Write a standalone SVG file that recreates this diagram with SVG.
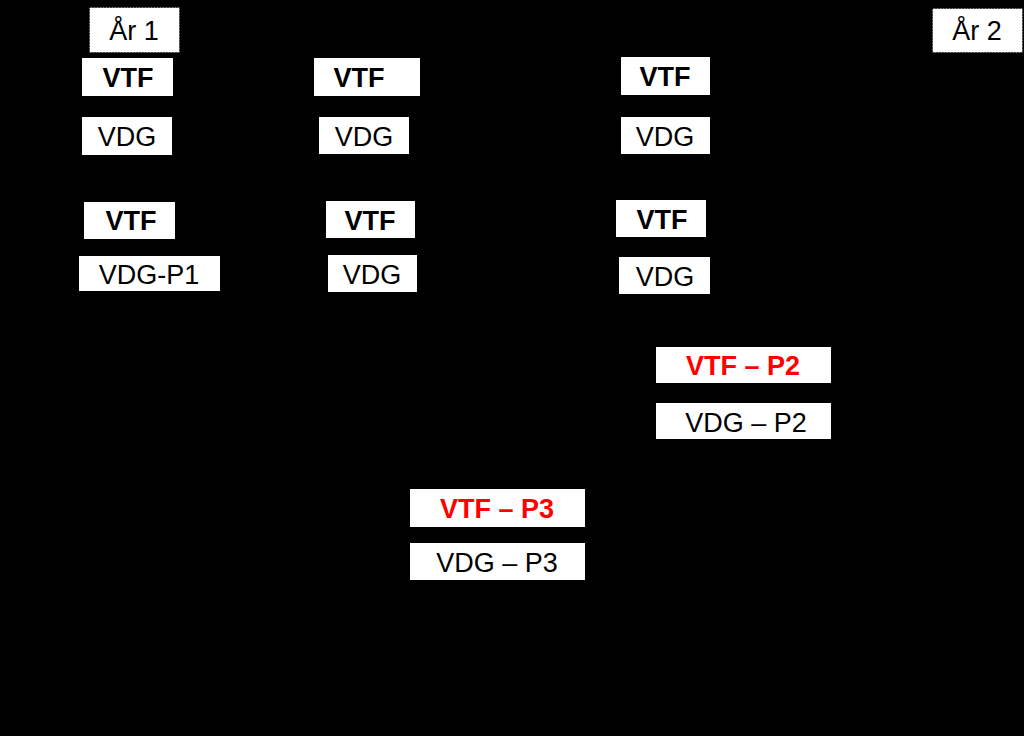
<svg xmlns="http://www.w3.org/2000/svg" width="1024" height="736" viewBox="0 0 1024 736">
  <style>
    .box { fill: #ffffff; stroke: none; }
    .yr { fill: #ffffff; stroke: #000000; stroke-width: 1; stroke-dasharray: 1 2; }
    text { font-family: "Liberation Sans", Arial, sans-serif; font-size: 27px; text-anchor: middle; fill: #000000; }
    .b { font-weight: bold; }
    .red { fill: #ff0000; font-weight: bold; }
  </style>
  <rect x="0" y="0" width="1024" height="736" fill="#000000"/>
  <g id="connectors"></g>
  <g id="year1"><rect class="yr" x="89.5" y="7.5" width="90" height="45"/><text x="134" y="40">År 1</text></g>
  <g id="year2"><rect class="yr" x="932.5" y="8.5" width="90" height="44"/><text x="977" y="40">År 2</text></g>

  <g id="vtf1"><rect class="box" x="82" y="58" width="91" height="38"/><text class="b" x="128" y="87">VTF</text></g>
  <g id="vdg1"><rect class="box" x="82" y="117" width="90" height="38"/><text x="127" y="146">VDG</text></g>
  <g id="vtf2"><rect class="box" x="314" y="58" width="106" height="38"/><text class="b" x="359" y="87">VTF</text></g>
  <g id="vdg2"><rect class="box" x="319" y="117" width="90" height="37"/><text x="364" y="146">VDG</text></g>
  <g id="vtf3"><rect class="box" x="621" y="57" width="89" height="38"/><text class="b" x="665" y="86">VTF</text></g>
  <g id="vdg3"><rect class="box" x="621" y="117" width="89" height="37"/><text x="665" y="146">VDG</text></g>

  <g id="vtf4"><rect class="box" x="84" y="202" width="91" height="37"/><text class="b" x="131" y="230">VTF</text></g>
  <g id="vdgp1"><rect class="box" x="79" y="256" width="141" height="35"/><text x="149" y="284">VDG-P1</text></g>
  <g id="vtf5"><rect class="box" x="326" y="201" width="89" height="37"/><text class="b" x="370" y="230">VTF</text></g>
  <g id="vdg5"><rect class="box" x="328" y="255" width="89" height="37"/><text x="372" y="284">VDG</text></g>
  <g id="vtf6"><rect class="box" x="616" y="200" width="90" height="37"/><text class="b" x="662" y="229">VTF</text></g>
  <g id="vdg6"><rect class="box" x="619" y="257" width="91" height="37"/><text x="665" y="286">VDG</text></g>

  <g id="vtfp2"><rect class="box" x="656" y="347" width="175" height="36"/><text class="red" x="743" y="375">VTF – P2</text></g>
  <g id="vdgp2"><rect class="box" x="656" y="403" width="175" height="36"/><text x="746" y="432">VDG – P2</text></g>
  <g id="vtfp3"><rect class="box" x="410" y="489" width="175" height="38"/><text class="red" x="497" y="518">VTF – P3</text></g>
  <g id="vdgp3"><rect class="box" x="410" y="543" width="175" height="37"/><text x="497" y="572">VDG – P3</text></g>
</svg>
